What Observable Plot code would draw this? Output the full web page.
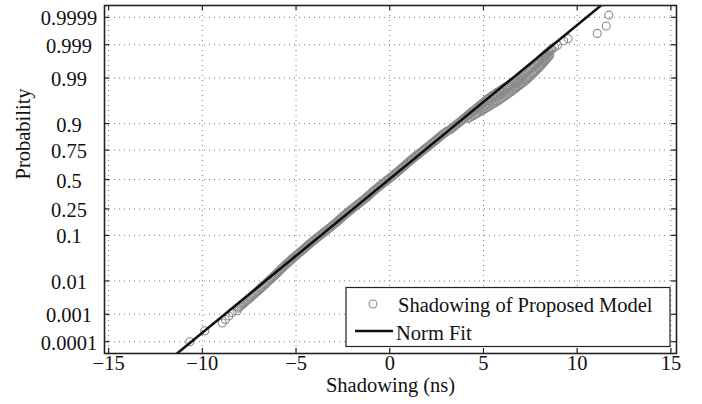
<!DOCTYPE html>
<html>
<head>
<meta charset="utf-8">
<script src="https://cdn.jsdelivr.net/npm/d3@7"></script>
<script src="https://cdn.jsdelivr.net/npm/@observablehq/plot@0.6"></script>
<style>
  html, body { margin: 0; padding: 0; background: #fff; }
  #chart { width: 702px; height: 404px; }
</style>
</head>
<body>
<div id="chart"></div>
<script>
// ---------- data (x in ns, z = normal score of the plotting position) ----------
const xTicks = [-15, -10, -5, 0, 5, 10, 15];
const probTicks = [0.0001, 0.001, 0.01, 0.1, 0.25, 0.5, 0.75, 0.9, 0.99, 0.999, 0.9999];
const probLabels = ["0.0001", "0.001", "0.01", "0.1", "0.25", "0.5", "0.75", "0.9", "0.99", "0.999", "0.9999"];

const tailLow = [[-10.67, -3.72], [-9.87, -3.47], [-8.94, -3.29], [-8.77, -3.21], [-8.59, -3.13], [-8.41, -3.05], [-8.14, -3.01]];
const bandLow = [
  [-8.10,-2.95],[-7.96,-2.90],[-7.82,-2.85],[-7.69,-2.80],[-7.55,-2.75],[-7.41,-2.70],[-7.28,-2.65],[-7.15,-2.60],
  [-7.02,-2.55],[-6.89,-2.50],[-6.77,-2.45],[-6.64,-2.40],[-6.52,-2.35],[-6.39,-2.30],[-6.27,-2.25],[-6.14,-2.20],
  [-6.02,-2.15],[-5.90,-2.10],[-5.78,-2.05],[-5.66,-2.00],[-5.54,-1.95],[-5.41,-1.90],
  [-8.03,-2.925],[-7.89,-2.875],[-7.76,-2.825],[-7.62,-2.775],[-7.48,-2.725],[-7.35,-2.675],[-7.22,-2.625],[-7.09,-2.575],
  [-6.96,-2.525],[-6.83,-2.475],[-6.71,-2.425],[-6.58,-2.375],[-6.46,-2.325],[-6.33,-2.275],[-6.21,-2.225],[-6.08,-2.175],
  [-5.96,-2.125],[-5.84,-2.075],[-5.72,-2.025],[-5.60,-1.975],[-5.48,-1.925],[-5.35,-1.875]
];
const bandMid = [
  [-5.29,-1.85],[-5.15,-1.80],[-5.01,-1.75],[-4.88,-1.70],[-4.74,-1.65],[-4.60,-1.60],[-4.47,-1.55],[-4.34,-1.50],
  [-4.20,-1.45],[-4.06,-1.40],[-3.92,-1.35],[-3.77,-1.30],[-3.62,-1.25],[-3.47,-1.20],[-3.32,-1.15],[-3.18,-1.10],
  [-3.04,-1.05],[-2.90,-1.00],[-2.76,-0.95],[-2.63,-0.90],[-2.50,-0.85],[-2.37,-0.80],[-2.23,-0.75],[-2.09,-0.70],
  [-1.94,-0.65],[-1.79,-0.60],[-1.64,-0.55],[-1.49,-0.50],[-1.35,-0.45],[-1.21,-0.40],[-1.08,-0.35],[-0.95,-0.30],
  [-0.82,-0.25],[-0.68,-0.20],[-0.54,-0.15],[-0.39,-0.10],[-0.24,-0.05],[-0.09,0.00],[0.06,0.05],[0.20,0.10],
  [0.34,0.15],[0.48,0.20],[0.61,0.25],[0.75,0.30],[0.88,0.35],[1.01,0.40],[1.15,0.45],[1.29,0.50],
  [1.43,0.55],[1.58,0.60],[1.73,0.65],[1.88,0.70],[2.03,0.75],[2.17,0.80],[2.31,0.85],[2.45,0.90],
  [2.59,0.95],[2.73,1.00],[2.88,1.05],[3.03,1.10],
  [-5.22,-1.825],[-5.08,-1.775],[-4.95,-1.725],[-4.81,-1.675],[-4.67,-1.625],[-4.54,-1.575],[-4.41,-1.525],[-4.27,-1.475],
  [-4.13,-1.425],[-3.99,-1.375],[-3.85,-1.325],[-3.70,-1.275],[-3.55,-1.225],[-3.40,-1.175],[-3.25,-1.125],[-3.11,-1.075],
  [-2.97,-1.025],[-2.83,-0.975],[-2.70,-0.925],[-2.57,-0.875],[-2.44,-0.825],[-2.30,-0.775],[-2.16,-0.725],[-2.02,-0.675],
  [-1.87,-0.625],[-1.72,-0.575],[-1.57,-0.525],[-1.42,-0.475],[-1.28,-0.425],[-1.15,-0.375],[-1.02,-0.325],[-0.89,-0.275],
  [-0.75,-0.225],[-0.61,-0.175],[-0.47,-0.125],[-0.32,-0.075],[-0.17,-0.025],[-0.02,0.025],[0.13,0.075],[0.27,0.125],
  [0.41,0.175],[0.55,0.225],[0.68,0.275],[0.82,0.325],[0.95,0.375],[1.08,0.425],[1.22,0.475],[1.36,0.525],
  [1.51,0.575],[1.66,0.625],[1.81,0.675],[1.96,0.725],[2.10,0.775],[2.24,0.825],[2.38,0.875],[2.52,0.925],
  [2.66,0.975],[2.81,1.025],[2.96,1.075],[3.14,1.125]
];
const bandHighA = [
  [3.25,1.15],[3.39,1.20],[3.53,1.25],[3.68,1.30],[3.82,1.35],[3.96,1.40],[4.10,1.45],[4.24,1.50],
  [4.38,1.55],[4.53,1.60],[4.67,1.65],[4.81,1.70],[4.95,1.75],[5.09,1.80],[5.24,1.85],[5.40,1.90],
  [5.57,1.95],[5.75,2.00],[5.93,2.05],[6.11,2.10],[6.30,2.15],[6.48,2.20],[6.65,2.25],[6.82,2.30],
  [6.97,2.35],[7.11,2.40],[7.25,2.45],[7.38,2.50],[7.51,2.55],[7.64,2.60],[7.77,2.65],[7.90,2.70],
  [8.03,2.75],[8.15,2.80],[8.28,2.85],[8.40,2.90],[8.53,2.95],[8.67,3.00],
  [3.32,1.175],[3.46,1.225],[3.61,1.275],[3.75,1.325],[3.89,1.375],[4.03,1.425],[4.17,1.475],[4.31,1.525],
  [4.46,1.575],[4.60,1.625],[4.74,1.675],[4.88,1.725],[5.02,1.775],[5.17,1.825],[5.32,1.875],[5.49,1.925],
  [5.66,1.975],[5.84,2.025],[6.02,2.075],[6.21,2.125],[6.39,2.175],[6.57,2.225],[6.74,2.275],[6.90,2.325],
  [7.04,2.375],[7.18,2.425],[7.32,2.475],[7.45,2.525],[7.58,2.575],[7.71,2.625],[7.84,2.675],[7.97,2.725],
  [8.09,2.775],[8.22,2.825],[8.34,2.875],[8.47,2.925],[8.60,2.975]
];
const bandHighB = [
  [4.18,1.40],[4.38,1.45],[4.59,1.50],[4.79,1.55],[5.00,1.60],[5.19,1.65],[5.38,1.70],[5.57,1.75],
  [5.76,1.80],[5.93,1.85],[6.10,1.90],[6.27,1.95],[6.43,2.00],[6.58,2.05],[6.73,2.10],[6.89,2.15],
  [7.04,2.20],[7.19,2.25],[7.33,2.30],[7.45,2.35],[7.56,2.40],[7.69,2.45],[7.80,2.50],[7.92,2.55],
  [8.03,2.60],[8.13,2.65],[8.24,2.70],[8.34,2.75],[8.44,2.80],[8.54,2.85],
  [4.28,1.425],[4.49,1.475],[4.69,1.525],[4.90,1.575],[5.10,1.625],[5.29,1.675],[5.48,1.725],[5.67,1.775],
  [5.85,1.825],[6.02,1.875],[6.19,1.925],[6.35,1.975],[6.51,2.025],[6.66,2.075],[6.81,2.125],[6.97,2.175],
  [7.12,2.225],[7.26,2.275],[7.39,2.325],[7.51,2.375],[7.63,2.425],[7.75,2.475],[7.86,2.525],[7.98,2.575],
  [8.08,2.625],[8.19,2.675],[8.29,2.725],[8.39,2.775],[8.49,2.825]
];
const bandHighC = [
  [4.77,1.60],[4.93,1.65],[5.09,1.70],[5.26,1.75],[5.43,1.80],[5.59,1.85],[5.75,1.90],[5.92,1.95],
  [6.09,2.00],[6.26,2.05],[6.42,2.10],[6.60,2.15],[6.76,2.20],[6.92,2.25],[7.08,2.30]
];
const tailHigh = [[8.80, 3.04], [8.95, 3.08], [9.28, 3.18], [9.52, 3.23], [11.07, 3.35], [11.55, 3.52], [11.69, 3.77]];
const normFit = [[-11.38, -4.0], [11.30, 4.0]];

// ---------- helpers ----------
function probit(p) {
  const a = [-3.969683028665376e+01, 2.209460984245205e+02, -2.759285104469687e+02, 1.383577518672690e+02, -3.066479806614716e+01, 2.506628277459239e+00];
  const b = [-5.447609879822406e+01, 1.615858368580409e+02, -1.556989798598866e+02, 6.680131188771972e+01, -1.328068155288572e+01];
  const c = [-7.784894002430293e-03, -3.223964580411365e-01, -2.400758277161838e+00, -2.549732539343734e+00, 4.374664141464968e+00, 2.938163982698783e+00];
  const d = [7.784695709041462e-03, 3.224671290700398e-01, 2.445134137142996e+00, 3.754408661907416e+00];
  const pl = 0.02425, ph = 1 - pl;
  if (p < pl) { const q = Math.sqrt(-2 * Math.log(p)); return (((((c[0]*q+c[1])*q+c[2])*q+c[3])*q+c[4])*q+c[5]) / ((((d[0]*q+d[1])*q+d[2])*q+d[3])*q+1); }
  if (p <= ph) { const q = p - 0.5, r = q * q; return (((((a[0]*r+a[1])*r+a[2])*r+a[3])*r+a[4])*r+a[5])*q / (((((b[0]*r+b[1])*r+b[2])*r+b[3])*r+b[4])*r+1); }
  const q = Math.sqrt(-2 * Math.log(1 - p)); return -(((((c[0]*q+c[1])*q+c[2])*q+c[3])*q+c[4])*q+c[5]) / ((((d[0]*q+d[1])*q+d[2])*q+d[3])*q+1);
}

const W = 702, H = 404;
const mL = 104, mR = 26, mT = 5, mB = 51;
const xDomain = [-15.22, 15.3];
const yDomain = [-3.99, 3.99];
const kX = (W - mL - mR) / (xDomain[1] - xDomain[0]);
const kY = (H - mT - mB) / (yDomain[1] - yDomain[0]);
const tickLen = 5;

const samples = [...tailLow, ...bandLow, ...bandMid, ...bandHighA, ...bandHighB, ...bandHighC, ...tailHigh]
  .map(([x, z]) => ({x, z}));
const fit = normFit.map(([x, z]) => ({x, z}));
const yTickData = probTicks.map((p, i) => ({z: probit(p), label: probLabels[i]}));
const fmtX = d => d < 0 ? "\u2212" + (-d) : String(d);

const font = "'Liberation Serif', 'Times New Roman', Times, serif";
const gridStroke = "#7a7a7a";
const dash = "1,4";
const ptStroke = "#8a8a8a";

const chart = Plot.plot({
  width: W, height: H,
  marginLeft: mL, marginRight: mR, marginTop: mT, marginBottom: mB,
  style: {fontFamily: font, fontSize: "20.5px", color: "#111", background: "#fff", overflow: "visible"},
  x: {domain: xDomain, axis: null},
  y: {domain: yDomain, axis: null},
  marks: [
    Plot.ruleX(xTicks, {x: d => d, stroke: gridStroke, strokeDasharray: dash, strokeWidth: 1}),
    Plot.ruleY(yTickData, {y: "z", stroke: gridStroke, strokeDasharray: dash, strokeWidth: 1}),
    Plot.dot(samples, {x: "x", y: "z", r: 4, stroke: ptStroke, strokeWidth: 1.1, fill: "none"}),
    Plot.line(fit, {x: "x", y: "z", stroke: "#111", strokeWidth: 2.6, clip: true}),
    // inward ticks (bottom, top, left, right)
    Plot.ruleX(xTicks, {x: d => d, y1: yDomain[0], y2: yDomain[0] + tickLen / kY, stroke: "#222", strokeWidth: 1.2}),
    Plot.ruleX(xTicks, {x: d => d, y1: yDomain[1] - tickLen / kY, y2: yDomain[1], stroke: "#222", strokeWidth: 1.2}),
    Plot.ruleY(yTickData, {y: "z", x1: xDomain[0], x2: xDomain[0] + tickLen / kX, stroke: "#222", strokeWidth: 1.2}),
    Plot.ruleY(yTickData, {y: "z", x1: xDomain[1] - tickLen / kX, x2: xDomain[1], stroke: "#222", strokeWidth: 1.2}),
    Plot.frame({stroke: "#222", strokeWidth: 1.6}),
    // tick labels
    Plot.text(xTicks, {x: d => d, frameAnchor: "bottom", dy: 16.5, text: fmtX, fill: "#111", textAnchor: "middle"}),
    Plot.text(yTickData, {y: "z", frameAnchor: "left", dx: -35.5, dy: 1.5, text: "label", fill: "#111", textAnchor: "middle"}),
    // axis labels
    Plot.text(["Shadowing (ns)"], {frameAnchor: "bottom", dy: 38.5, text: d => d, fill: "#111"}),
    Plot.text(["Probability"], {frameAnchor: "left", dx: -81, rotate: -90, text: d => d, fill: "#111"})
  ]
});

document.getElementById("chart").appendChild(chart);

// legend inside the plot area (lower right)
const svg = d3.select(chart);
const lg = svg.append("g").attr("font-family", font).attr("font-size", 20.5)
  .attr("fill", "#111").attr("text-anchor", "start");
lg.append("rect").attr("x", 346).attr("y", 287.5).attr("width", 324).attr("height", 59)
  .attr("fill", "#fff").attr("stroke", "#222").attr("stroke-width", 1.2);
lg.append("circle").attr("cx", 373).attr("cy", 304).attr("r", 4)
  .attr("fill", "none").attr("stroke", ptStroke).attr("stroke-width", 1.1);
lg.append("text").attr("x", 398).attr("y", 311.5).attr("text-anchor", "start").text("Shadowing of Proposed Model");
lg.append("line").attr("x1", 355).attr("x2", 393).attr("y1", 331).attr("y2", 331)
  .attr("stroke", "#111").attr("stroke-width", 2.6);
lg.append("text").attr("x", 396).attr("y", 340).attr("text-anchor", "start").text("Norm Fit");
</script>
</body>
</html>
